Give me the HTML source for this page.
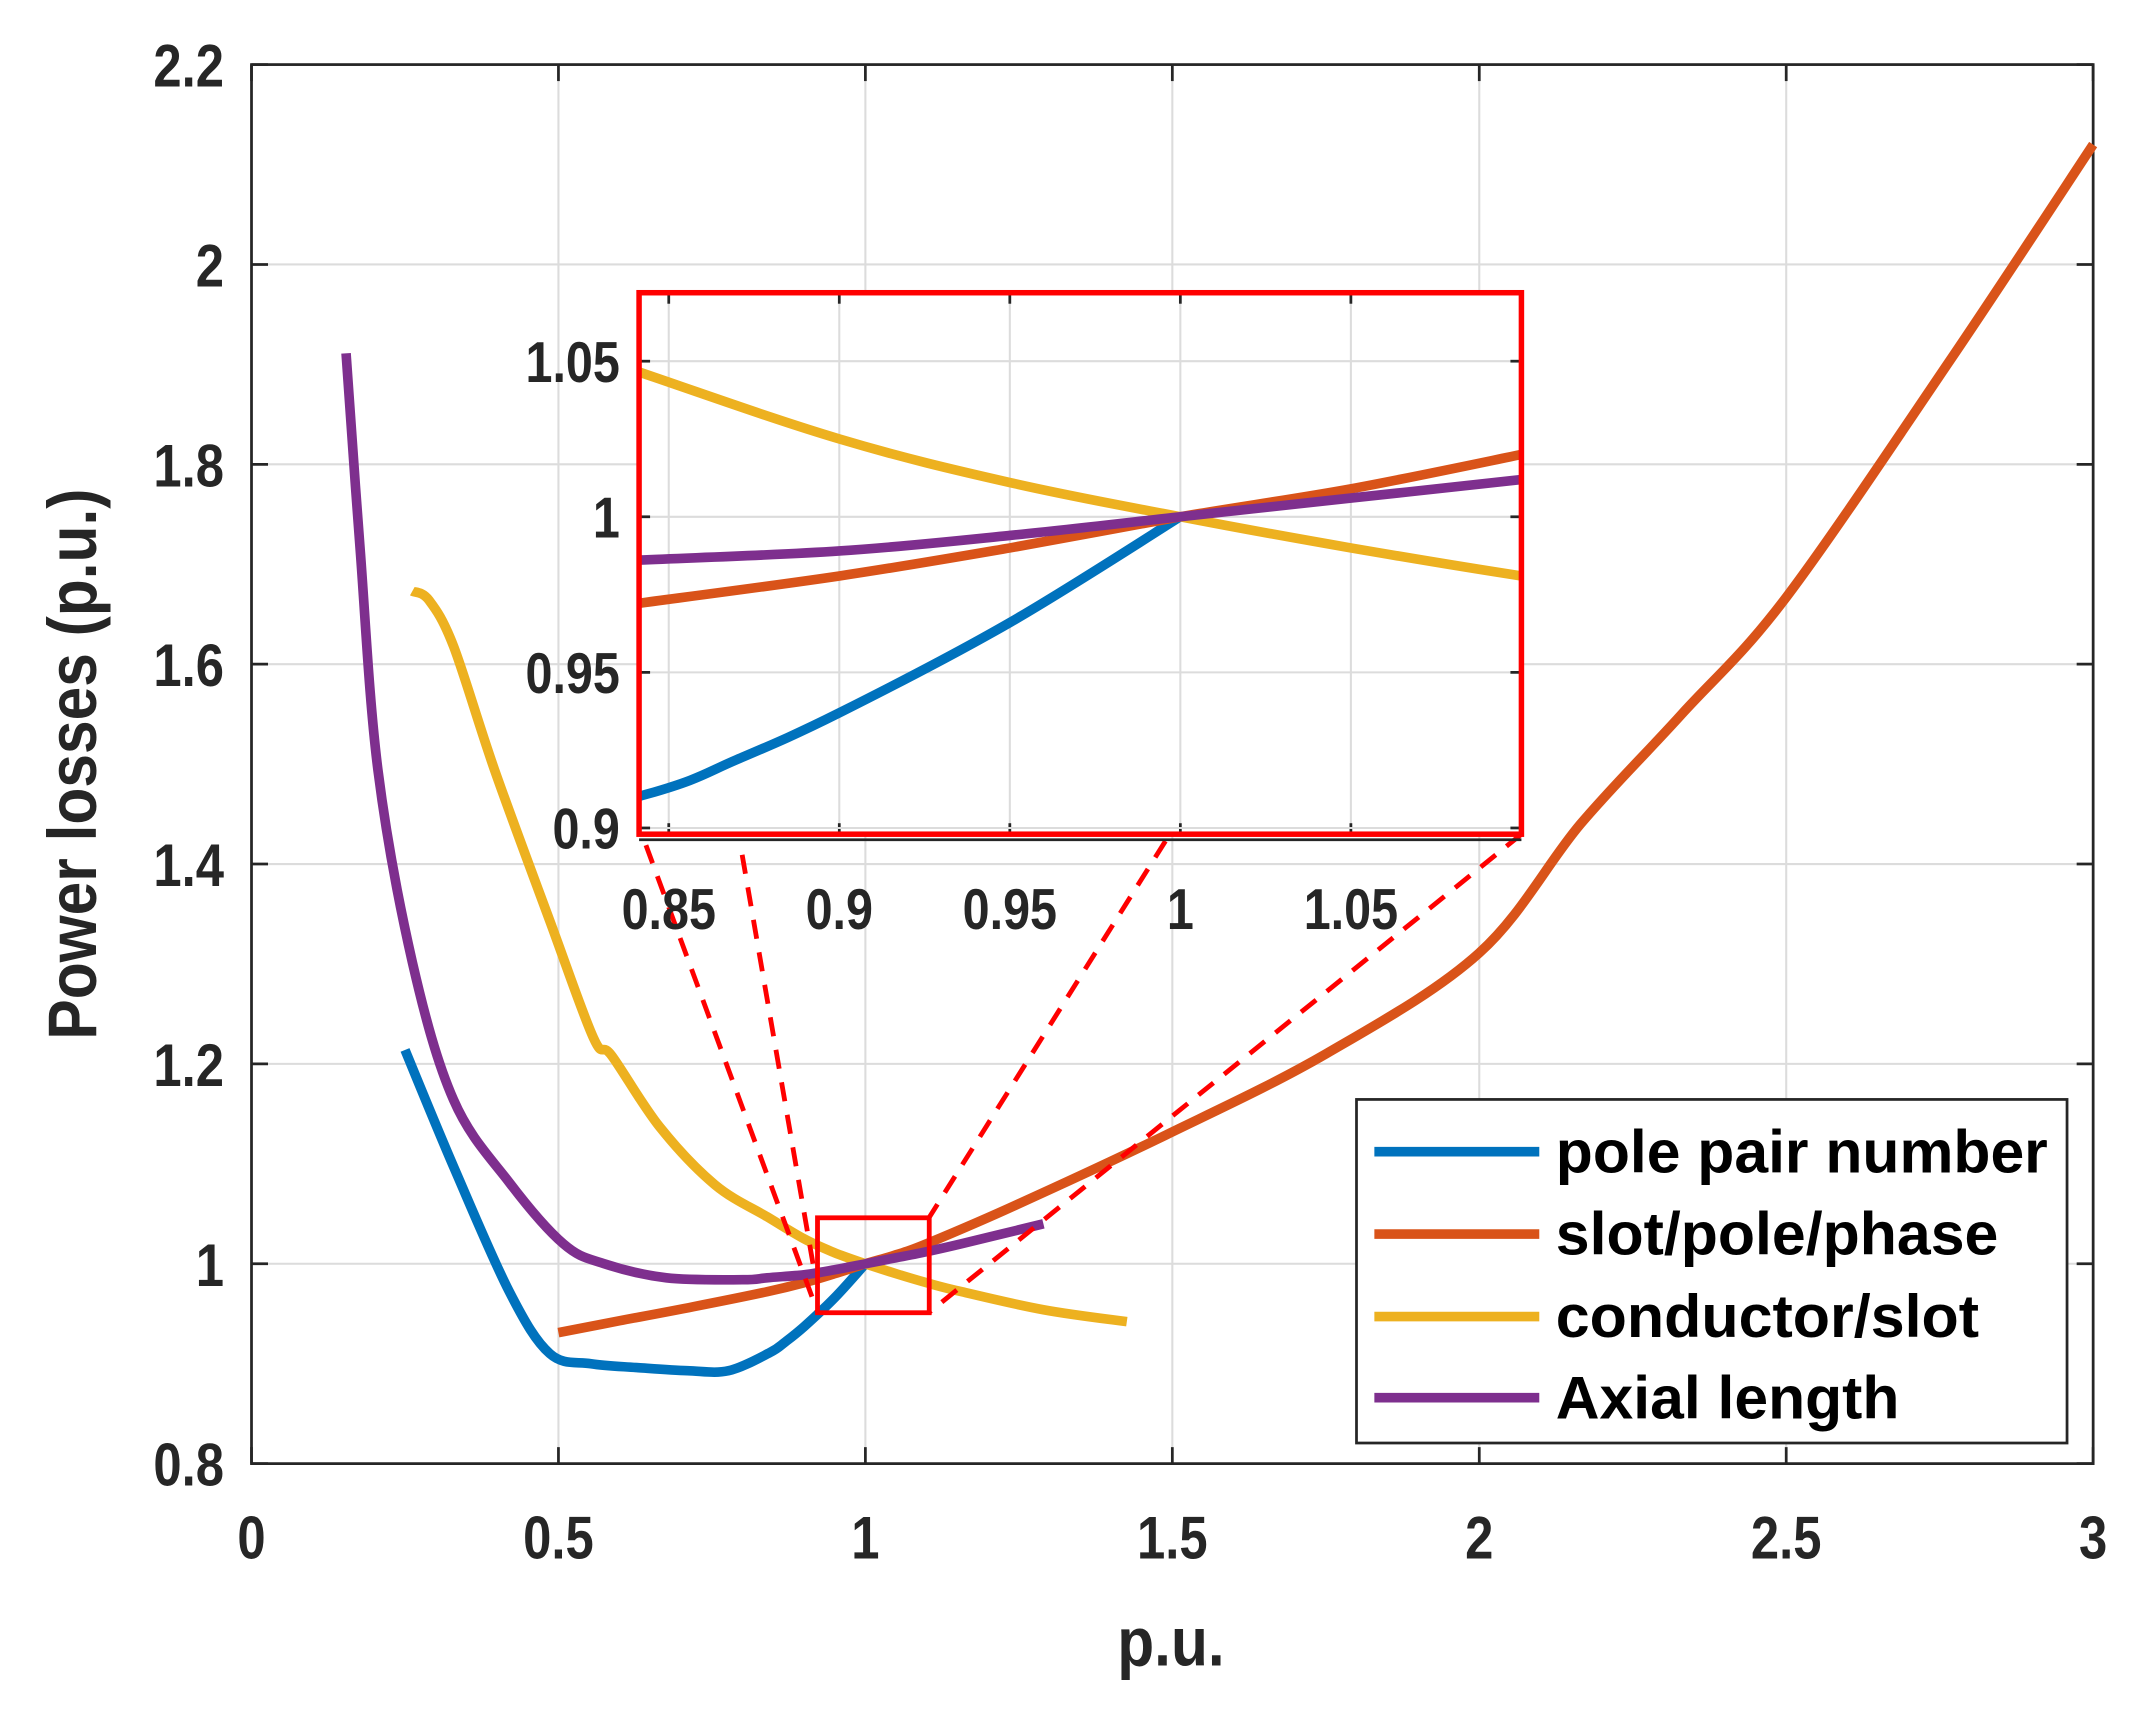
<!DOCTYPE html>
<html><head><meta charset="utf-8"><style>
html,body{margin:0;padding:0;background:#fff}
svg{display:block}
text{font-family:"Liberation Sans",sans-serif;font-weight:bold;fill:#262626}
</style></head><body>
<svg id="chart" width="2155" height="1711" viewBox="0 0 1568 1245" preserveAspectRatio="none" xmlns="http://www.w3.org/2000/svg"></svg>
<script>
const xTicks=[0,0.5,1,1.5,2,2.5,3];
const xTickLabels=["0","0.5","1","1.5","2","2.5","3"];
const yTicks=[0.8,1,1.2,1.4,1.6,1.8,2,2.2];
const yTickLabels=["0.8","1","1.2","1.4","1.6","1.8","2","2.2"];
const insetXTicks=[0.85,0.9,0.95,1,1.05];
const insetXLabels=["0.85","0.9","0.95","1","1.05"];
const insetYTicks=[0.9,0.95,1,1.05];
const insetYLabels=["0.9","0.95","1","1.05"];
const seriesNames=["pole pair number","slot/pole/phase","conductor/slot","Axial length"];
const seriesColors=["#0072BD","#D95319","#EDB120","#7E2F8E"];
const poleX=[0.25,0.33,0.42,0.486,0.553,0.63,0.71,0.777,0.844,0.87,0.9,0.95,1.0];
const poleY=[1.214,1.096,0.972,0.91,0.9,0.896,0.893,0.893,0.911,0.922,0.937,0.966,1.0];
const slotX=[0.5,0.6,0.72,0.84,0.9,0.95,1,1.05,1.1,1.25,1.49,1.75,2.0,2.165,2.33,2.5,2.77,3.0];
const slotY=[0.931,0.943,0.957,0.972,0.981,0.99,1.0,1.009,1.02,1.06,1.129,1.21,1.311,1.44,1.55,1.667,1.907,2.12];
const condX=[0.262,0.289,0.329,0.396,0.486,0.557,0.587,0.665,0.755,0.84,0.9,0.95,1.0,1.05,1.1,1.157,1.29,1.426];
const condY=[1.673,1.664,1.618,1.494,1.343,1.226,1.208,1.137,1.079,1.047,1.025,1.011,1.0,0.99,0.981,0.972,0.954,0.942];
const axX=[0.154,0.177,0.206,0.262,0.329,0.419,0.508,0.575,0.676,0.8,0.84,0.9,0.95,1.0,1.05,1.1,1.157,1.29];
const axY=[1.911,1.714,1.494,1.302,1.164,1.082,1.02,1.0,0.986,0.984,0.986,0.989,0.994,1.0,1.006,1.012,1.02,1.04];
const seriesX=[poleX,slotX,condX,axX];
const seriesY=[poleY,slotY,condY,axY];

const NS="http://www.w3.org/2000/svg";
const svg=document.getElementById('chart');
function mk(tag,attrs,parent){const e=document.createElementNS(NS,tag);for(const k in attrs)e.setAttribute(k,attrs[k]);(parent||svg).appendChild(e);return e;}
function txt(x,y,s,size,anchor,parent,sc){const t=mk('text',{x:0,y:0,'text-anchor':anchor,'font-size':size,transform:'translate('+x+','+y+') scale('+(sc||0.84)+',1)'},parent);t.textContent=s;return t;}
const L=183,R=1523,T=47,B=1065;
const sx=v=>L+(v-0)/(3-0)*(R-L);
const sy=v=>B-(v-0.8)/(2.2-0.8)*(B-T);
const main=mk('g',{});


xTicks.forEach((t,i)=>{
  const g=mk('line',{x1:sx(t),x2:sx(t),y1:T,y2:B,stroke:'#dcdcdc','stroke-width':1.5},main);
  
  mk('line',{x1:sx(t),x2:sx(t),y1:B,y2:B-12,stroke:'#262626','stroke-width':2},main);
  mk('line',{x1:sx(t),x2:sx(t),y1:T,y2:T+12,stroke:'#262626','stroke-width':2},main);
  const tx=txt(sx(t),1134,xTickLabels[i],44,'middle',main);
  
});
yTicks.forEach((t,i)=>{
  const g=mk('line',{x1:L,x2:R,y1:sy(t),y2:sy(t),stroke:'#dcdcdc','stroke-width':1.5},main);
  
  mk('line',{x1:L,x2:L+12,y1:sy(t),y2:sy(t),stroke:'#262626','stroke-width':2},main);
  mk('line',{x1:R,x2:R-12,y1:sy(t),y2:sy(t),stroke:'#262626','stroke-width':2},main);
  const tx=txt(163,sy(t)+16,yTickLabels[i],44,'end',main);
  
});
const fr=mk('rect',{x:L,y:T,width:R-L,height:B-T,fill:'none',stroke:'#262626','stroke-width':2},main);

const xl=txt(852,1212,'p.u.',50,'middle',main,0.88);

const yl=mk('text',{x:0,y:0,'text-anchor':'middle','font-size':50,transform:'translate(70,556) rotate(-90) scale(0.88,1)'},main);yl.textContent='Power  losses (p.u.)';

function pathFor(xs,ys,fx,fy,filt){
  const pts=[];xs.forEach((x,i)=>{if(filt&&!filt(x))return;pts.push([fx(x),fy(ys[i])]);});
  let d='M'+pts[0][0].toFixed(1)+','+pts[0][1].toFixed(1);
  for(let i=0;i<pts.length-1;i++){
    const p0=pts[Math.max(0,i-1)],p1=pts[i],p2=pts[i+1],p3=pts[Math.min(pts.length-1,i+2)];
    const c1=[p1[0]+(p2[0]-p0[0])/6,p1[1]+(p2[1]-p0[1])/6];
    const c2=[p2[0]-(p3[0]-p1[0])/6,p2[1]-(p3[1]-p1[1])/6];
    d+='C'+c1[0].toFixed(1)+','+c1[1].toFixed(1)+' '+c2[0].toFixed(1)+','+c2[1].toFixed(1)+' '+p2[0].toFixed(1)+','+p2[1].toFixed(1);
  }
  return d;}
seriesNames.forEach((n,i)=>{
  const p=mk('path',{d:pathFor(seriesX[i],seriesY[i],sx,sy),fill:'none',stroke:seriesColors[i],'stroke-width':7,'stroke-linejoin':'round'},main);
  
  
});
const zr=mk('rect',{x:sx(0.922),y:sy(1.046),width:sx(1.104)-sx(0.922),height:sy(0.951)-sy(1.046),fill:'none',stroke:'#ff0000','stroke-width':3.5});

const IL=465,IR=1107,IT=213,IB=607;
const ix0=0.8413,ix1=1.1,iy0=0.898,iy1=1.072;
const ix=v=>IL+(v-ix0)/(ix1-ix0)*(IR-IL);
const iy=v=>IB-(v-iy0)/(iy1-iy0)*(IB-IT);
const dl=[[470,615,595,955],[540,622,593,928],[848,612,676,886],[1107,607,676,955]];
dl.forEach(a=>{const l=mk('line',{x1:a[0],y1:a[1],x2:a[2],y2:a[3],stroke:'#ff0000','stroke-width':3.5,'stroke-dasharray':'14,10'});
  });
const ins=mk('g',{});


mk('rect',{x:IL,y:IT,width:IR-IL,height:IB-IT,fill:'#fff'},ins);
insetXTicks.forEach((t,i)=>{
  mk('line',{x1:ix(t),x2:ix(t),y1:IT,y2:IB,stroke:'#dcdcdc','stroke-width':1.5},ins);
  mk('line',{x1:ix(t),x2:ix(t),y1:IB,y2:IB-8,stroke:'#262626','stroke-width':2},ins);
  mk('line',{x1:ix(t),x2:ix(t),y1:IT,y2:IT+8,stroke:'#262626','stroke-width':2},ins);
  const tx=txt(ix(t),676,insetXLabels[i],42,'middle',ins);
  
});
insetYTicks.forEach((t,i)=>{
  mk('line',{x1:IL,x2:IR,y1:iy(t),y2:iy(t),stroke:'#dcdcdc','stroke-width':1.5},ins);
  mk('line',{x1:IL,x2:IL+8,y1:iy(t),y2:iy(t),stroke:'#262626','stroke-width':2},ins);
  mk('line',{x1:IR,x2:IR-8,y1:iy(t),y2:iy(t),stroke:'#262626','stroke-width':2},ins);
  const tx=txt(451,iy(t)+15,insetYLabels[i],42,'end',ins);
  
});
mk('line',{x1:IL,x2:IR,y1:IB+4,y2:IB+4,stroke:'#262626','stroke-width':2},ins);
const cp=mk('clipPath',{id:'ic'},ins);
mk('rect',{x:IL,y:IT,width:IR-IL,height:IB-IT},cp);
const ig=mk('g',{'clip-path':'url(#ic)'},ins);
seriesNames.forEach((n,i)=>{
  const p=mk('path',{d:pathFor(seriesX[i],seriesY[i],ix,iy,x=>x>=0.75&&x<=1.2),fill:'none',stroke:seriesColors[i],'stroke-width':7,'stroke-linejoin':'round'},ig);
  
  
});
const ifr=mk('rect',{x:IL,y:IT,width:IR-IL,height:IB-IT,fill:'none',stroke:'#ff0000','stroke-width':4},ins);

const lg=mk('g',{});


mk('rect',{x:987,y:800,width:517,height:250,fill:'#fff',stroke:'#262626','stroke-width':2},lg);
const ly=[838,898,958,1017];
const lw=[358,322,308,250];
seriesNames.forEach((n,i)=>{
  const l=mk('line',{x1:1000,x2:1120,y1:ly[i],y2:ly[i],stroke:seriesColors[i],'stroke-width':7},lg);
  
  const t=mk('text',{x:1132,y:ly[i]+15,'font-size':44,textLength:lw[i],lengthAdjust:'spacingAndGlyphs'},lg);
  t.style.fill='#000';t.textContent=n;
  
});
</script>
</body></html>
